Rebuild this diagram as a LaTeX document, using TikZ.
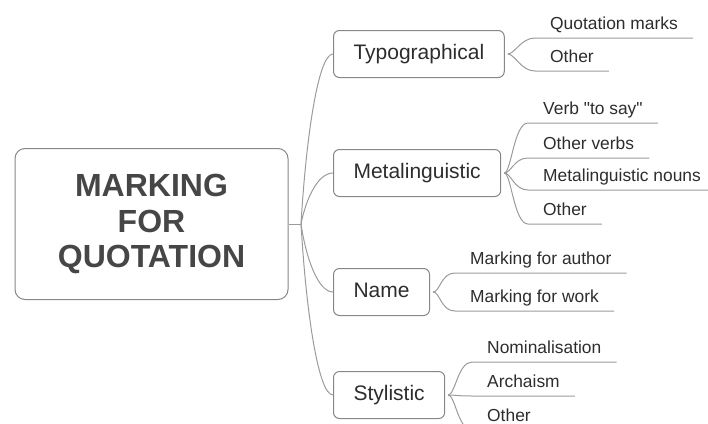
\documentclass[tikz,border=0pt]{standalone}
\usepackage{fontspec}
\setmainfont{Liberation Sans}
\usetikzlibrary{calc}
\definecolor{linegray}{RGB}{155,155,155}
\definecolor{boxgray}{RGB}{135,135,135}
\definecolor{txtgray}{RGB}{45,45,45}
\definecolor{roottxt}{RGB}{70,70,70}

\tikzset{
  rootbox/.style={draw=boxgray, line width=1pt, rounded corners=10pt, minimum width=273pt, minimum height=151pt,
    align=center, font=\fontsize{32}{35.5}\selectfont\bfseries, text=roottxt},
  mainbox/.style={draw=boxgray, line width=1pt, rounded corners=6pt, minimum height=47pt, inner xsep=20pt,
    text height=15.5pt, text depth=4.5pt, font=\fontsize{21}{25}\selectfont, text=txtgray, anchor=west},
  leaf/.style={font=\fontsize{17.4}{20}\selectfont, text=txtgray, inner xsep=15pt, inner ysep=8.5pt,
    text depth=0pt, anchor=south west},
  trunk/.style={draw=linegray, line width=1pt},
}

\begin{document}
\begin{tikzpicture}[x=1pt, y=-1pt]
    \clip (0,0) rectangle (708,423);
    \node[rootbox] (root) at (151.5,224) {MARKING\\FOR\\QUOTATION};
    \coordinate (br) at (301,224);

    \node[mainbox] (typo) at (333,54) {Typographical};
    \node[mainbox] (meta) at (333,173) {Metalinguistic};
    \node[mainbox] (name) at (333,292) {Name};
    \node[mainbox] (styl) at (333,395) {Stylistic};

    % leaves
    \node[leaf] (tq) at (535,38) {Quotation marks};
    \node[leaf] (to) at (535,71) {Other};
    \node[leaf] (mv) at (528,123) {Verb \textquotedbl to say\textquotedbl};
    \node[leaf] (mo) at (528,158) {Other verbs};
    \node[leaf] (mn) at (528,190) {Metalinguistic nouns};
    \node[leaf] (mx) at (528,224) {Other};
    \node[leaf] (na) at (455,273) {Marking for author};
    \node[leaf] (nw) at (455,311) {Marking for work};
    \node[leaf] (sn) at (472,362) {Nominalisation};
    \node[leaf] (sa) at (472,396) {Archaism};
    \node[leaf] (so) at (472,430) {Other};

    \draw[trunk] (root.east) -- (br);
    \foreach \n/\c in {typo/139, meta/198.5, name/258, styl/309.5} {
        \draw[trunk] (br) .. controls (306,\c) and +(-15,0) .. (\n.west);
    }
    \foreach \p/\l in {typo/tq, typo/to, meta/mv, meta/mo, meta/mn, meta/mx, name/na, name/nw, styl/sn, styl/sa, styl/so} {
        \draw[trunk, shorten <=3pt] (\p.east) .. controls +(10,0) and +(-14,0) .. (\l.south west) -- (\l.south east);
    }
\end{tikzpicture}
\end{document}
